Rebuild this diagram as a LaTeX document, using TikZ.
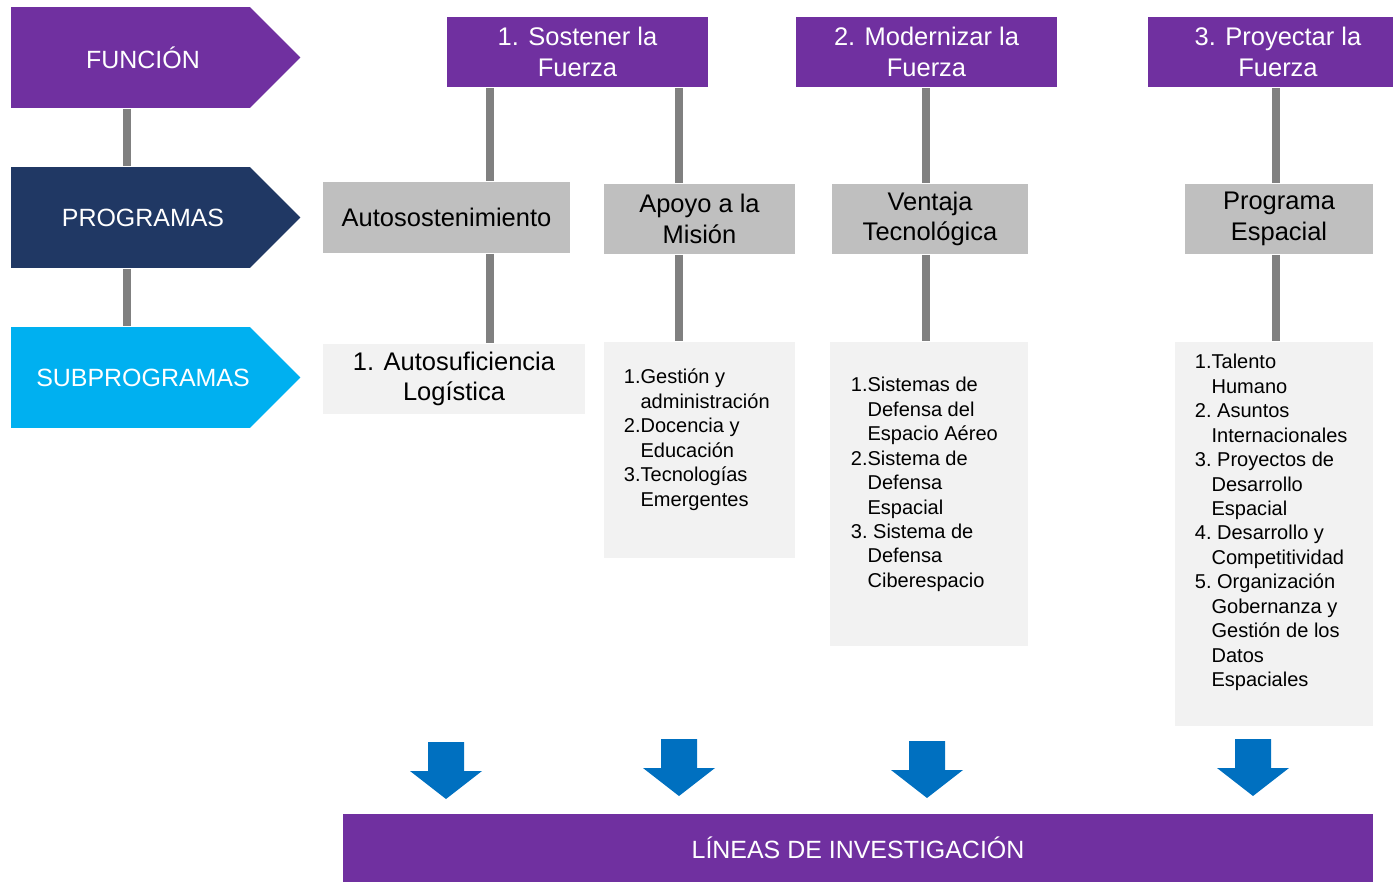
\documentclass[tikz,border=0pt]{standalone}
\usepackage{fontspec}
\setmainfont{Liberation Sans}
\usetikzlibrary{shapes.symbols}

\definecolor{morado}{HTML}{7030A0}
\definecolor{marino}{HTML}{203864}
\definecolor{celeste}{HTML}{00B0F0}
\definecolor{gris}{HTML}{BFBFBF}
\definecolor{grisclaro}{HTML}{F2F2F2}
\definecolor{azul}{HTML}{0070C0}

\tikzset{
every picture/.style={
line width=1pt
}}

\newcommand{\listfont}{\fontsize{11.4}{13.9}\selectfont}

\begin{document}
\begin{tikzpicture}[x=0.02cm, y=-0.02cm,
etiqueta/.style = {signal, signal to=east, signal pointer angle=90, inner sep=0,
  text width=4.78cm, align=center, minimum height=2.02cm, text=white,
  font=\fontsize{14.2}{17}\selectfont},
funcion/.style = {rectangle, fill=morado, text=white, align=center, inner sep=0,
  minimum height=1.42cm, font=\fontsize{14.5}{17.5}\selectfont},
programa/.style = {rectangle, fill=gris, align=center, inner sep=0,
  minimum height=1.42cm, font=\fontsize{14.5}{17.5}\selectfont},
subprog/.style = {rectangle, fill=grisclaro, inner sep=0},
lista/.style = {anchor=north west, inner sep=0, align=left, font=\listfont},
enlace/.style = {draw=gray, line width=4.5pt}]

\useasboundingbox (0,0) rectangle (1393,882);

\node[etiqueta, fill=morado] (fun) at (130.5,57.5) {\hspace*{0.5cm}FUNCIÓN};
\node[etiqueta, fill=marino] (prog) at (130.5,217.5) {\hspace*{0.5cm}PROGRAMAS};
\node[etiqueta, fill=celeste] (sub) at (130.5,377.5) {\hspace*{0.5cm}SUBPROGRAMAS};

\node[funcion, minimum width=5.22cm] (f1) at (577.5,52) {1. Sostener la\\Fuerza};
\node[funcion, minimum width=5.22cm] (f2) at (926.5,52) {2. Modernizar la\\Fuerza};
\node[funcion, minimum width=5.2cm] (f3) at (1278,52) {3. Proyectar la\\Fuerza};

\node[programa, minimum width=4.94cm] (p1) at (446.5,217.5) {Autosostenimiento};
\node[programa, minimum width=3.82cm] (p2) at (699.5,219) {Apoyo a la\\Misión};
\node[programa, minimum width=3.92cm] (p3) at (930,219) {Ventaja\\Tecnológica};
\node[programa, minimum width=3.76cm] (p4) at (1279,219) {Programa\\Espacial};

\node[subprog, minimum width=5.24cm, minimum height=1.42cm, align=center,
  font=\fontsize{14.5}{17.5}\selectfont] (s1) at (454,379) {1. Autosuficiencia\\Logística};
\node[subprog, minimum width=3.82cm, minimum height=4.32cm] (s2) at (699.5,450) {};
\node[subprog, minimum width=3.96cm, minimum height=6.08cm] (s3) at (929,494) {};
\node[subprog, minimum width=3.96cm, minimum height=7.68cm] (s4) at (1274,534) {};

\node[lista] (l2) at (623,366) {\begin{tabular}{@{}l@{}l@{}}
1.&Gestión y\\ &administración\\
2.&Docencia y\\ &Educación\\
3.&Tecnologías\\ &Emergentes
\end{tabular}};
\node[lista] (l3) at (850,374) {\begin{tabular}{@{}l@{}l@{}}
1.&Sistemas de\\ &Defensa del\\ &Espacio Aéreo\\
2.&Sistema de\\ &Defensa\\ &Espacial\\
3.&\ Sistema de\\ &Defensa\\ &Ciberespacio
\end{tabular}};
\node[lista] (l4) at (1194,351) {\begin{tabular}{@{}l@{}l@{}}
1.&Talento\\ &Humano\\
2.&\ Asuntos\\ &Internacionales\\
3.&\ Proyectos de\\ &Desarrollo\\ &Espacial\\
4.&\ Desarrollo y\\ &Competitividad\\
5.&\ Organización\\ &Gobernanza y\\ &Gestión de los\\ &Datos\\ &Espaciales
\end{tabular}};

\node[rectangle, fill=morado, text=white, minimum width=20.6cm, minimum height=1.36cm,
  font=\fontsize{14.2}{17}\selectfont] (lineas) at (858,848) {LÍNEAS DE INVESTIGACIÓN};

\coordinate (c0) at (127,0);
\coordinate (c1) at (490,0);
\coordinate (c2) at (679,0);
\coordinate (c3) at (926,0);
\coordinate (c4) at (1276,0);

\draw[enlace] (fun.south -| c0) -- (prog.north -| c0);
\draw[enlace] (prog.south -| c0) -- (sub.north -| c0);
\draw[enlace] (f1.south -| c1) -- (p1.north -| c1);
\draw[enlace] (p1.south -| c1) -- (s1.north -| c1);
\draw[enlace] (f1.south -| c2) -- (p2.north -| c2);
\draw[enlace] (p2.south -| c2) -- (s2.north -| c2);
\draw[enlace] (f2.south -| c3) -- (p3.north -| c3);
\draw[enlace] (p3.south -| c3) -- (s3.north -| c3);
\draw[enlace] (f3.south -| c4) -- (p4.north -| c4);
\draw[enlace] (p4.south -| c4) -- (s4.north -| c4);

\foreach \x/\y in {446/742, 679/739, 927/741, 1253/739}
  \fill[azul] (\x-18,\y) -- (\x+18,\y) -- (\x+18,\y+29) -- (\x+36,\y+29)
    -- (\x,\y+57) -- (\x-36,\y+29) -- (\x-18,\y+29) -- cycle;
\end{tikzpicture}
\end{document}
